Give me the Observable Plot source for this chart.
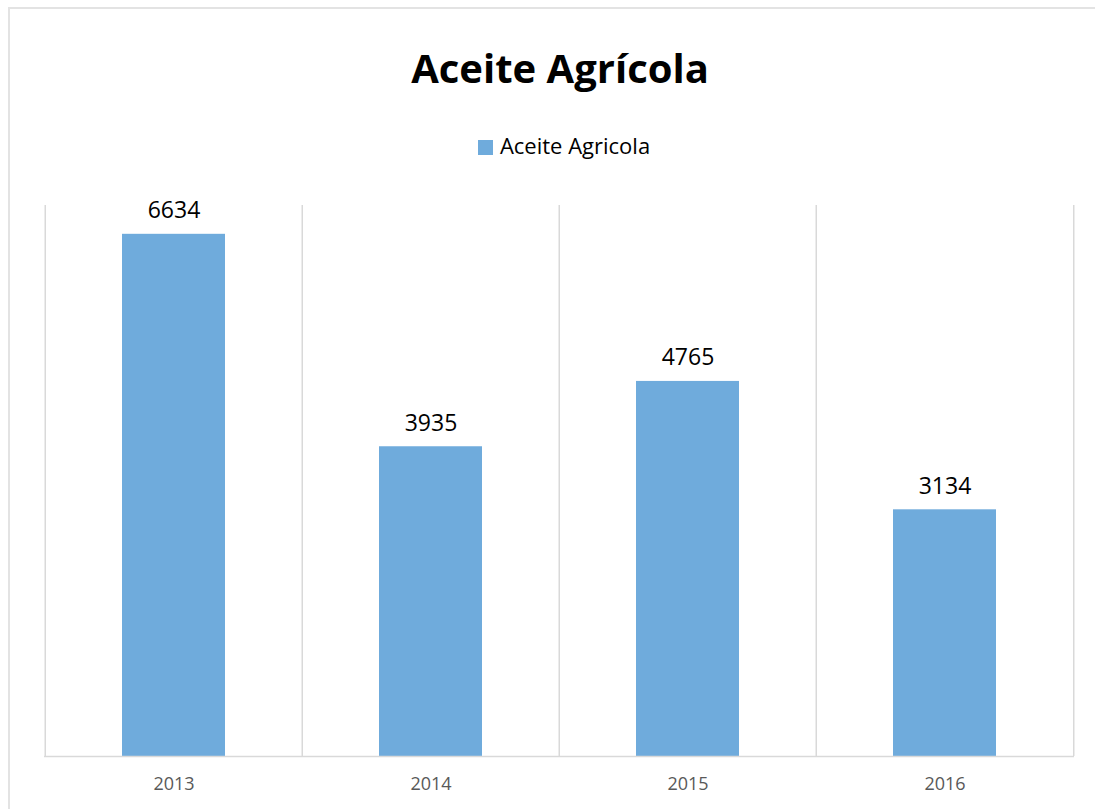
<!DOCTYPE html>
<html>
<head>
<meta charset="utf-8">
<script src="https://cdn.jsdelivr.net/npm/d3@7"></script>
<script src="https://cdn.jsdelivr.net/npm/@observablehq/plot@0.6"></script>
<style>
  html, body { margin: 0; padding: 0; background: #fff; overflow: hidden; }
  body { width: 1095px; height: 809px; position: relative; font-family: "Open Sans", sans-serif; }
  #hline { position: absolute; left: 8px; top: 7px; width: 1087px; height: 2px; background: #e3e3e3; }
  #vline { position: absolute; left: 8px; top: 7px; width: 2px; height: 802px; background: #e3e3e3; }
  #title { position: absolute; left: 0; width: 1120px; top: 38px; text-align: center; font-weight: 700; font-size: 40px; color: #000; line-height: 60px; }
  #legend { position: absolute; left: 0; width: 1128px; top: 129px; text-align: center; font-size: 22px; color: #000; line-height: 32px; }
  #legend .sw { display: inline-block; width: 15px; height: 15px; background: #6fabdc; margin-right: 7px; vertical-align: -1px; }
  #chart { position: absolute; left: 0; top: 170px; }
</style>
</head>
<body>
<div id="hline"></div>
<div id="vline"></div>
<div id="title">Aceite Agrícola</div>
<div id="legend"><span class="sw"></span>Aceite Agricola</div>
<div id="chart"></div>
<script>
const years = ["2013", "2014", "2015", "2016"];
const values = [6634, 3935, 4765, 3134];
const seriesName = "Aceite Agricola";

const data = years.map((y, i) => ({year: y, value: values[i]}));
const W = 1095, mL = 44, mR = 21;
const step = (W - mL - mR) / years.length;
const grid = "#d9d9d9";

const plot = Plot.plot({
  width: W,
  height: 636,
  marginLeft: mL,
  marginRight: mR,
  marginTop: 35,
  marginBottom: 50,
  style: {fontFamily: "Open Sans, sans-serif", background: "transparent"},
  x: {domain: years, paddingInner: 0.6, paddingOuter: 0.3, label: null},
  y: {domain: [0, 7000], axis: null},
  marks: [
    Plot.ruleX(years, {x: d => d, y1: 0, y2: 7000, dx: -step / 2, stroke: grid, strokeWidth: 1.5}),
    Plot.ruleX([years[years.length - 1]], {x: d => d, y1: 0, y2: 7000, dx: step / 2, stroke: grid, strokeWidth: 1.5}),
    Plot.barY(data, {x: "year", y: "value", fill: "#6fabdc"}),
    Plot.ruleY([0], {stroke: grid, strokeWidth: 1.5}),
    Plot.text(data, {x: "year", y: "value", text: d => String(d.value), lineAnchor: "bottom", dy: -16, fontSize: 23, fill: "#000"}),
    Plot.axisX({tickSize: 0, tickPadding: 21, fontSize: 18, fill: "#595959", label: null})
  ]
});
document.getElementById("chart").appendChild(plot);
</script>
</body>
</html>
